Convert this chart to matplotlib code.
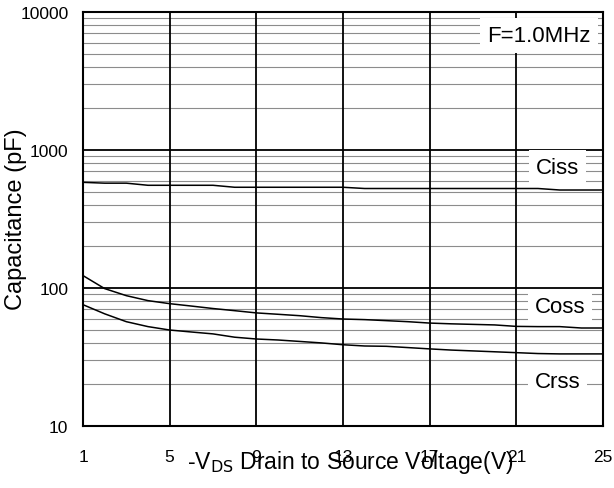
import matplotlib
matplotlib.use("Agg")
import matplotlib.pyplot as plt
from matplotlib.ticker import FixedLocator, NullFormatter

plt.rcParams['font.family'] = ['Liberation Sans', 'DejaVu Sans']

vds = [1, 2, 3, 4, 5, 6, 7, 8, 9, 10, 11, 12, 13, 14, 15, 16, 17, 18, 19, 20, 21, 22, 23, 24, 25]
ciss = [583, 575, 575, 555, 555, 555, 555, 537, 537, 537, 537, 537, 537, 526, 526, 526, 526,
        526, 526, 526, 526, 526, 513, 513, 513]
coss = [123, 99, 88, 81, 77, 74, 71, 68.5, 66, 64.5, 63, 61, 59.6, 59, 58, 57, 55.7, 55,
        54.5, 54, 52.7, 52.5, 52.5, 51.3, 51.3]
crss = [75.7, 65, 57, 52.5, 49.6, 48, 46.5, 44, 42.7, 42, 41, 40, 38.8, 38, 37.8, 37, 36.2,
        35.5, 35, 34.5, 34, 33.5, 33.3, 33.3, 33.3]

xticks = [1, 5, 9, 13, 17, 21, 25]
yticks = [10, 100, 1000, 10000]

fig = plt.figure(figsize=(6.14, 4.89), dpi=100)
ax = fig.add_axes([83/614, 1-427/489, 520/614, 414/489])

ax.set_yscale('log')
ax.set_xlim(1, 25)
ax.set_ylim(10, 10000)

for y in [10, 100, 1000]:
    for m in range(2, 10):
        ax.axhline(y * m, color='#8c8c8c', lw=0.8, zorder=1)
for y in yticks:
    ax.axhline(y, color='black', lw=1.3, zorder=1)
for x in xticks[1:-1]:
    ax.axvline(x, color='black', lw=1.3, zorder=1)

for vals in (ciss, coss, crss):
    ax.plot(vds, vals, color='black', lw=1.1, zorder=3)

box = dict(facecolor='white', edgecolor='none', pad=5)
ax.text(22.05, 6162, 'F=1.0MHz', ha='center', va='baseline', fontsize=16, bbox=box, zorder=4)
ax.text(22.88, 678, 'Ciss', ha='center', va='baseline', fontsize=16, bbox=box, zorder=4)
ax.text(23.0, 66.7, 'Coss', ha='center', va='baseline', fontsize=16, bbox=box, zorder=4)
ax.text(22.9, 19.3, 'Crss', ha='center', va='baseline', fontsize=16, bbox=box, zorder=4)

ax.xaxis.set_major_locator(FixedLocator(xticks))
ax.set_xticklabels([str(t) for t in xticks])
ax.yaxis.set_major_locator(FixedLocator(yticks))
ax.set_yticklabels([str(t) for t in yticks])
ax.yaxis.set_minor_formatter(NullFormatter())
ax.tick_params(axis='both', which='both', length=0, labelsize=12.5)
ax.tick_params(axis='x', pad=16.5)
ax.tick_params(axis='y', pad=10.5)

for s in ax.spines.values():
    s.set_linewidth(1.5)
    s.set_color('black')
    s.set_zorder(5)

ax.set_xlabel('-V$_{\\mathrm{DS}}$ Drain to Source Voltage(V)', fontsize=16.5)
ax.xaxis.set_label_coords(0.513, -0.053)
ax.set_ylabel('Capacitance (pF)', fontsize=17)
ax.yaxis.set_label_coords(-0.108, 0.502)

fig.savefig('out.png', dpi=100)
